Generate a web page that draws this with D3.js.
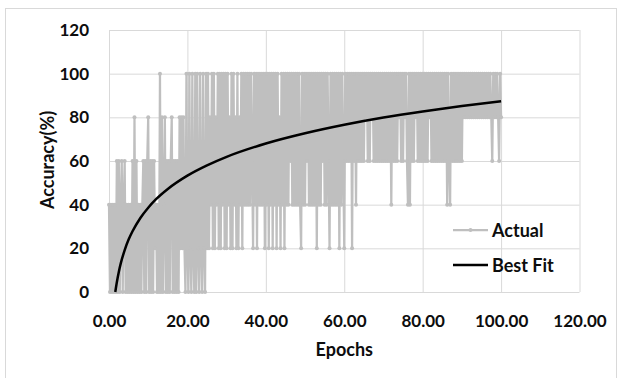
<!DOCTYPE html>
<html>
<head>
<meta charset="utf-8">
<script src="https://cdn.jsdelivr.net/npm/d3@7"></script>
<style>
  html, body { margin: 0; padding: 0; background: #fff; }
  #chart { width: 620px; height: 378px; overflow: hidden; }
  #chart text { font-family: Lato, "Open Sans", sans-serif; font-weight: bold; fill: #0d0d0d; }
</style>
</head>
<body>
<div id="chart"></div>
<script>
// data
const epochTicks = [0, 20, 40, 60, 80, 100, 120];
const accuracyTicks = [0, 20, 40, 60, 80, 100, 120];
const seriesNames = ["Actual", "Best Fit"];

// actual accuracy, one value every 0.25 epoch from 0 to 100 (5 epochs per row)
const actualEpochs = d3.range(0, 100.001, 0.25);
const actualAccuracy = [
  40,0,40,0, 40,0,40,0, 60,0,60,0, 40,60,0,40, 60,0,40,0,
  40,0,40,0, 60,0,80,0, 60,0,40,0, 40,0,40,60, 0,60,0,60,
  80,0,60,0, 60,0,60,20, 40,0,40,0, 100,0,80,0, 40,80,0,60,
  0,60,0,60, 80,0,60,0, 60,0,60,0, 80,20,80,20, 80,20,0,100,
  20,0,100,20, 0,100,20,0, 100,0,100,20, 0,100,20,0, 100,20,0,100,
  20,100,20,80, 40,100,20,100, 20,80,40,100, 20,100,20,100, 40,100,20,100,
  20,100,40,80, 20,100,20,100, 40,80,20,100, 20,80,40,100, 20,100,40,100,
  40,100,40,100, 40,100,60,20, 100,40,100,20, 100,40,100,40, 100,40,100,20,
  100,40,100,20, 100,40,100,20, 100,40,100,20, 100,40,80,20, 100,40,100,20,
  100,40,100,40, 100,60,100,40, 100,40,100,40, 100,40,100,40, 20,100,40,100,
  40,100,60,100, 40,100,40,100, 40,100,40,100, 20,100,40,100, 40,100,60,100,
  40,100,40,100, 60,20,100,40, 100,40,100,40, 100,40,100,20, 100,40,100,60,
  20,100,60,100, 60,100,60,100, 20,100,60,100, 40,100,60,100, 60,100,60,100,
  60,100,80,100, 60,100,60,100, 80,100,60,100, 60,100,60,100, 60,100,60,100,
  60,100,60,100, 60,100,60,100, 40,100,60,100, 60,100,60,100, 80,100,60,100,
  60,100,80,100, 60,40,100,40, 100,60,100,60, 100,80,100,60, 100,60,100,60,
  100,60,100,60, 100,60,100,80, 100,60,100,60, 100,60,100,60, 100,60,100,60,
  100,60,100,60, 100,40,100,60, 40,100,60,100, 60,100,60,100, 60,100,60,100,
  60,100,80,100, 80,100,80,100, 80,100,80,100, 80,100,80,100, 80,100,80,100,
  80,100,80,100, 80,100,80,100, 80,100,80,60, 100,80,100,80, 100,80,60,100,
  80
];

// best fit (logarithmic trend) read at a few epochs
const fitEpochs = [1.6, 2, 2.5, 3, 4, 5, 6, 8, 10, 12, 15, 20, 25, 30, 40, 50, 60, 70, 80, 90, 100];
const fitAccuracy = [0, 4.5, 9.2, 13.1, 19.2, 24, 27.8, 33.9, 38.6, 42.5, 47.2, 53.3, 58, 61.9, 68, 72.7, 76.6, 79.9, 82.7, 85.2, 87.4];

const colorPalette = {
  actual: "#BFBFBF",
  fit: "#000000",
  grid: "#D9D9D9",
  border: "#D9D9D9",
};

const config = {
  width: 620,
  height: 378,
  plotLeft: 109,
  plotRight: 579.5,
  plotTop: 30,
  plotBottom: 292,
};

const svg = d3.select("#chart")
  .append("svg")
  .attr("width", config.width)
  .attr("height", config.height);

// chart area border
svg.append("rect")
  .attr("x", 5.5)
  .attr("y", 8.5)
  .attr("width", 611)
  .attr("height", 400)
  .attr("fill", "none")
  .attr("stroke", colorPalette.border);

const x = d3.scaleLinear().domain([0, 120]).range([config.plotLeft, config.plotRight]);
const y = d3.scaleLinear().domain([0, 120]).range([config.plotBottom, config.plotTop]);

// gridlines
svg.append("g")
  .attr("class", "xGrid")
  .attr("transform", `translate(0,${config.plotBottom})`)
  .call(d3.axisBottom(x).tickValues(epochTicks).tickSize(-(config.plotBottom - config.plotTop)).tickFormat(""))
  .call(g => g.select(".domain").remove())
  .call(g => g.selectAll("line").attr("stroke", colorPalette.grid));

svg.append("g")
  .attr("class", "yGrid")
  .attr("transform", `translate(${config.plotLeft},0)`)
  .call(d3.axisLeft(y).tickValues(accuracyTicks).tickSize(-(config.plotRight - config.plotLeft)).tickFormat(""))
  .call(g => g.select(".domain").remove())
  .call(g => g.selectAll("line").attr("stroke", colorPalette.grid));

// tick labels
svg.append("g")
  .attr("class", "xAxis")
  .attr("transform", `translate(0,${config.plotBottom})`)
  .call(d3.axisBottom(x).tickValues(epochTicks).tickSize(0).tickPadding(23).tickFormat(d3.format(".2f")))
  .call(g => g.select(".domain").remove())
  .selectAll("text")
  .style("font-size", "17px");

svg.append("g")
  .attr("class", "yAxis")
  .attr("transform", `translate(${config.plotLeft},0)`)
  .call(d3.axisLeft(y).tickValues(accuracyTicks).tickSize(0).tickPadding(20).tickFormat(d3.format("d")))
  .call(g => g.select(".domain").remove())
  .selectAll("text")
  .style("font-size", "17px");

// actual series
const actualData = actualEpochs.map((e, i) => ({ e: e, v: actualAccuracy[i] }));

svg.append("path")
  .datum(actualData)
  .attr("fill", "none")
  .attr("stroke", colorPalette.actual)
  .attr("stroke-width", 2.25)
  .attr("stroke-linejoin", "round")
  .attr("d", d3.line().x(d => x(d.e)).y(d => y(d.v)));

svg.append("g")
  .selectAll("circle")
  .data(actualData)
  .enter()
  .append("circle")
  .attr("cx", d => x(d.e))
  .attr("cy", d => y(d.v))
  .attr("r", 2)
  .attr("fill", colorPalette.actual);

// best fit
const fitData = fitEpochs.map((e, i) => ({ e: e, v: fitAccuracy[i] }));
svg.append("path")
  .datum(fitData)
  .attr("fill", "none")
  .attr("stroke", colorPalette.fit)
  .attr("stroke-width", 2.5)
  .attr("d", d3.line().curve(d3.curveMonotoneX).x(d => x(d.e)).y(d => y(d.v)));

// axis titles
svg.append("text")
  .attr("x", (config.plotLeft + config.plotRight) / 2)
  .attr("y", 356)
  .attr("text-anchor", "middle")
  .style("font-size", "18px")
  .text("Epochs");

svg.append("text")
  .attr("transform", "translate(47,160) rotate(-90)")
  .attr("text-anchor", "middle")
  .attr("dominant-baseline", "central")
  .style("font-size", "18px")
  .text("Accuracy(%)");

// legend
const legend = svg.append("g").attr("class", "legend");
const legendRows = [
  { name: seriesNames[0], color: colorPalette.actual, width: 2.25, y: 230, marker: true },
  { name: seriesNames[1], color: colorPalette.fit, width: 2.5, y: 265, marker: false },
];
legendRows.forEach(row => {
  legend.append("line")
    .attr("x1", 453).attr("x2", 488)
    .attr("y1", row.y).attr("y2", row.y)
    .attr("stroke", row.color)
    .attr("stroke-width", row.width);
  if (row.marker) {
    legend.append("circle")
      .attr("cx", 470.5).attr("cy", row.y).attr("r", 2)
      .attr("fill", row.color);
  }
  legend.append("text")
    .attr("x", 492)
    .attr("y", row.y + 7)
    .style("font-size", "18px")
    .text(row.name);
});
</script>
</body>
</html>
